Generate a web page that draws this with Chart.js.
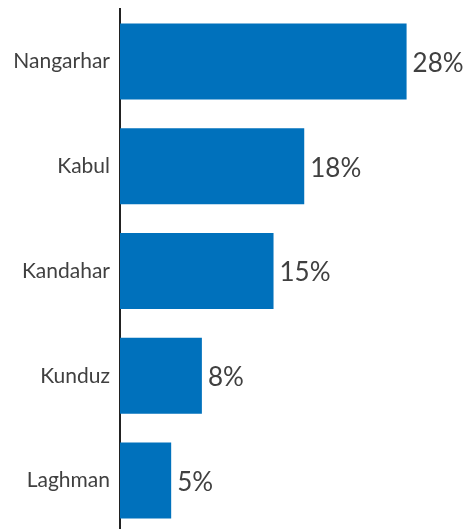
<!DOCTYPE html>
<html>
<head>
<meta charset="utf-8">
<script src="https://cdn.jsdelivr.net/npm/chart.js@4/dist/chart.umd.min.js"></script>
<style>
html,body{margin:0;padding:0;background:#fff;overflow:hidden;}
#wrap{position:relative;width:468px;height:533px;}
</style>
</head>
<body>
<div id="wrap"><canvas id="c"></canvas></div>
<script>
const categories = ["Nangarhar", "Kabul", "Kandahar", "Kunduz", "Laghman"];
const values = [28, 18, 15, 8, 5];
const valueLabels = ["28%", "18%", "15%", "8%", "5%"];

const textColor = "#404040";
const barColor = "#0071BC";

const valueLabelPlugin = {
  id: "valueLabels",
  afterDatasetsDraw(chart) {
    const ctx = chart.ctx;
    const meta = chart.getDatasetMeta(0);
    ctx.save();
    ctx.font = "26px Lato";
    ctx.fillStyle = textColor;
    ctx.textAlign = "left";
    ctx.textBaseline = "middle";
    meta.data.forEach((bar, i) => {
      ctx.fillText(valueLabels[i], bar.x + 6, bar.y + 2);
    });
    ctx.restore();
  }
};

new Chart(document.getElementById("c"), {
  type: "bar",
  data: {
    labels: categories,
    datasets: [{
      data: values,
      backgroundColor: barColor,
      borderWidth: 0,
      barPercentage: 0.725,
      categoryPercentage: 1
    }]
  },
  options: {
    indexAxis: "y",
    responsive: true,
    maintainAspectRatio: false,
    animation: false,
    layout: { padding: { top: 9, bottom: 0, left: 0, right: 0 } },
    plugins: { legend: { display: false }, tooltip: { enabled: false } },
    scales: {
      x: {
        display: false,
        min: 0,
        max: 34
      },
      y: {
        grid: { display: false, drawTicks: false },
        border: { display: true, color: "#222222", width: 2 },
        ticks: {
          color: textColor,
          font: { family: "Lato", size: 21 },
          padding: 10
        },
        afterFit(scale) {
          scale.width = 120;
          scale.paddingTop = 0;
          scale.paddingBottom = 0;
        }
      }
    }
  },
  plugins: [valueLabelPlugin]
});
</script>
</body>
</html>
